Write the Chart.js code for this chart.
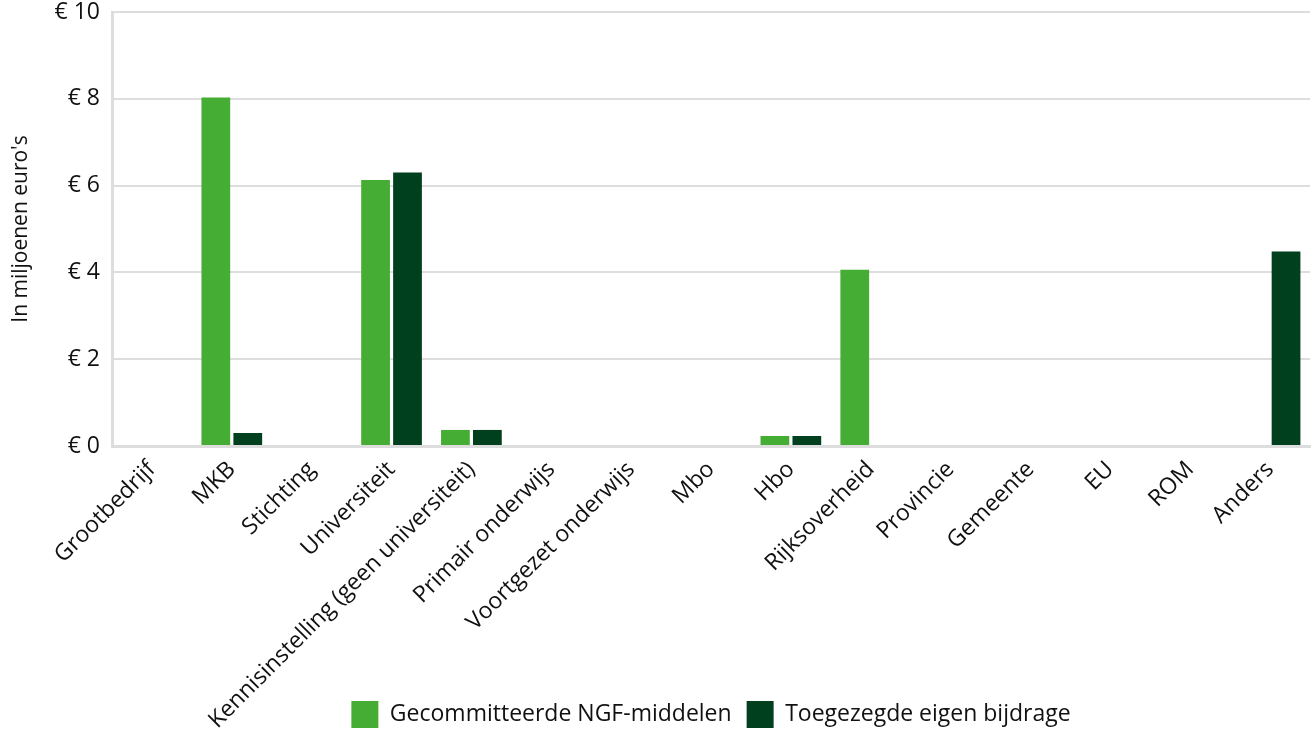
<!DOCTYPE html>
<html>
<head>
<meta charset="utf-8">
<script src="https://cdn.jsdelivr.net/npm/chart.js@4/dist/chart.umd.min.js"></script>
<style>
html,body{margin:0;padding:0;background:#fff;}
#wrap{width:1316px;height:733px;position:relative;}
</style>
</head>
<body>
<div id="wrap"><canvas id="c"></canvas></div>
<script>
const categories = ["Grootbedrijf","MKB","Stichting","Universiteit","Kennisinstelling (geen universiteit)","Primair onderwijs","Voortgezet onderwijs","Mbo","Hbo","Rijksoverheid","Provincie","Gemeente","EU","ROM","Anders"];
const ngfMiddelen = [0, 8.03, 0, 6.13, 0.37, 0, 0, 0, 0.23, 4.06, 0, 0, 0, 0, 0];
const eigenBijdrage = [0, 0.3, 0, 6.3, 0.37, 0, 0, 0, 0.23, 0, 0, 0, 0, 0, 4.48];
const seriesLabels = ["Gecommitteerde NGF-middelen", "Toegezegde eigen bijdrage"];
const yTicks = [0, 2, 4, 6, 8, 10];

const FONT = "'Open Sans', 'Noto Sans', sans-serif";

const unclipLabels = {
  id: 'unclipLabels',
  afterLayout(chart) {
    const x = chart.scales.x;
    if (x) x.bottom = chart.height;
  }
};

new Chart(document.getElementById('c'), {
  type: 'bar',
  data: {
    labels: categories,
    datasets: [
      {label: seriesLabels[0], data: ngfMiddelen, backgroundColor: '#46ad34'},
      {label: seriesLabels[1], data: eigenBijdrage, backgroundColor: '#00401e'}
    ]
  },
  plugins: [unclipLabels],
  options: {
    responsive: true,
    maintainAspectRatio: false,
    animation: false,
    layout: {padding: {top: 12, right: 6, left: 4, bottom: -5}},
    plugins: {
      legend: {
        position: 'bottom',
        fullSize: false,
        labels: {
          font: {family: FONT, size: 23},
          color: '#111',
          boxWidth: 27, boxHeight: 27, padding: 15
        }
      },
      tooltip: {enabled: false}
    },
    scales: {
      x: {
        grid: {display: false},
        border: {color: '#dddddd', width: 3},
        afterFit: (scale) => { scale.height = 240; },
        ticks: {
          font: {family: FONT, size: 23},
          color: '#111',
          minRotation: 45, maxRotation: 45,
          autoSkip: false,
          padding: 2
        }
      },
      y: {
        min: 0, max: 10,
        afterBuildTicks: (axis) => { axis.ticks = yTicks.map(v => ({value: v})); },
        afterFit: (scale) => { scale.width = 108; scale.paddingTop = 0; },
        grid: {color: '#dddddd', lineWidth: 2, drawTicks: false},
        border: {color: '#dddddd', width: 3},
        ticks: {
          font: {family: FONT, size: 23},
          color: '#111',
          padding: 12,
          callback: (v) => '€ ' + v
        },
        title: {
          display: true,
          text: "In miljoenen euro's",
          font: {family: FONT, size: 21},
          color: '#111',
          padding: {bottom: 14}
        }
      }
    }
  }
});
</script>
</body>
</html>
